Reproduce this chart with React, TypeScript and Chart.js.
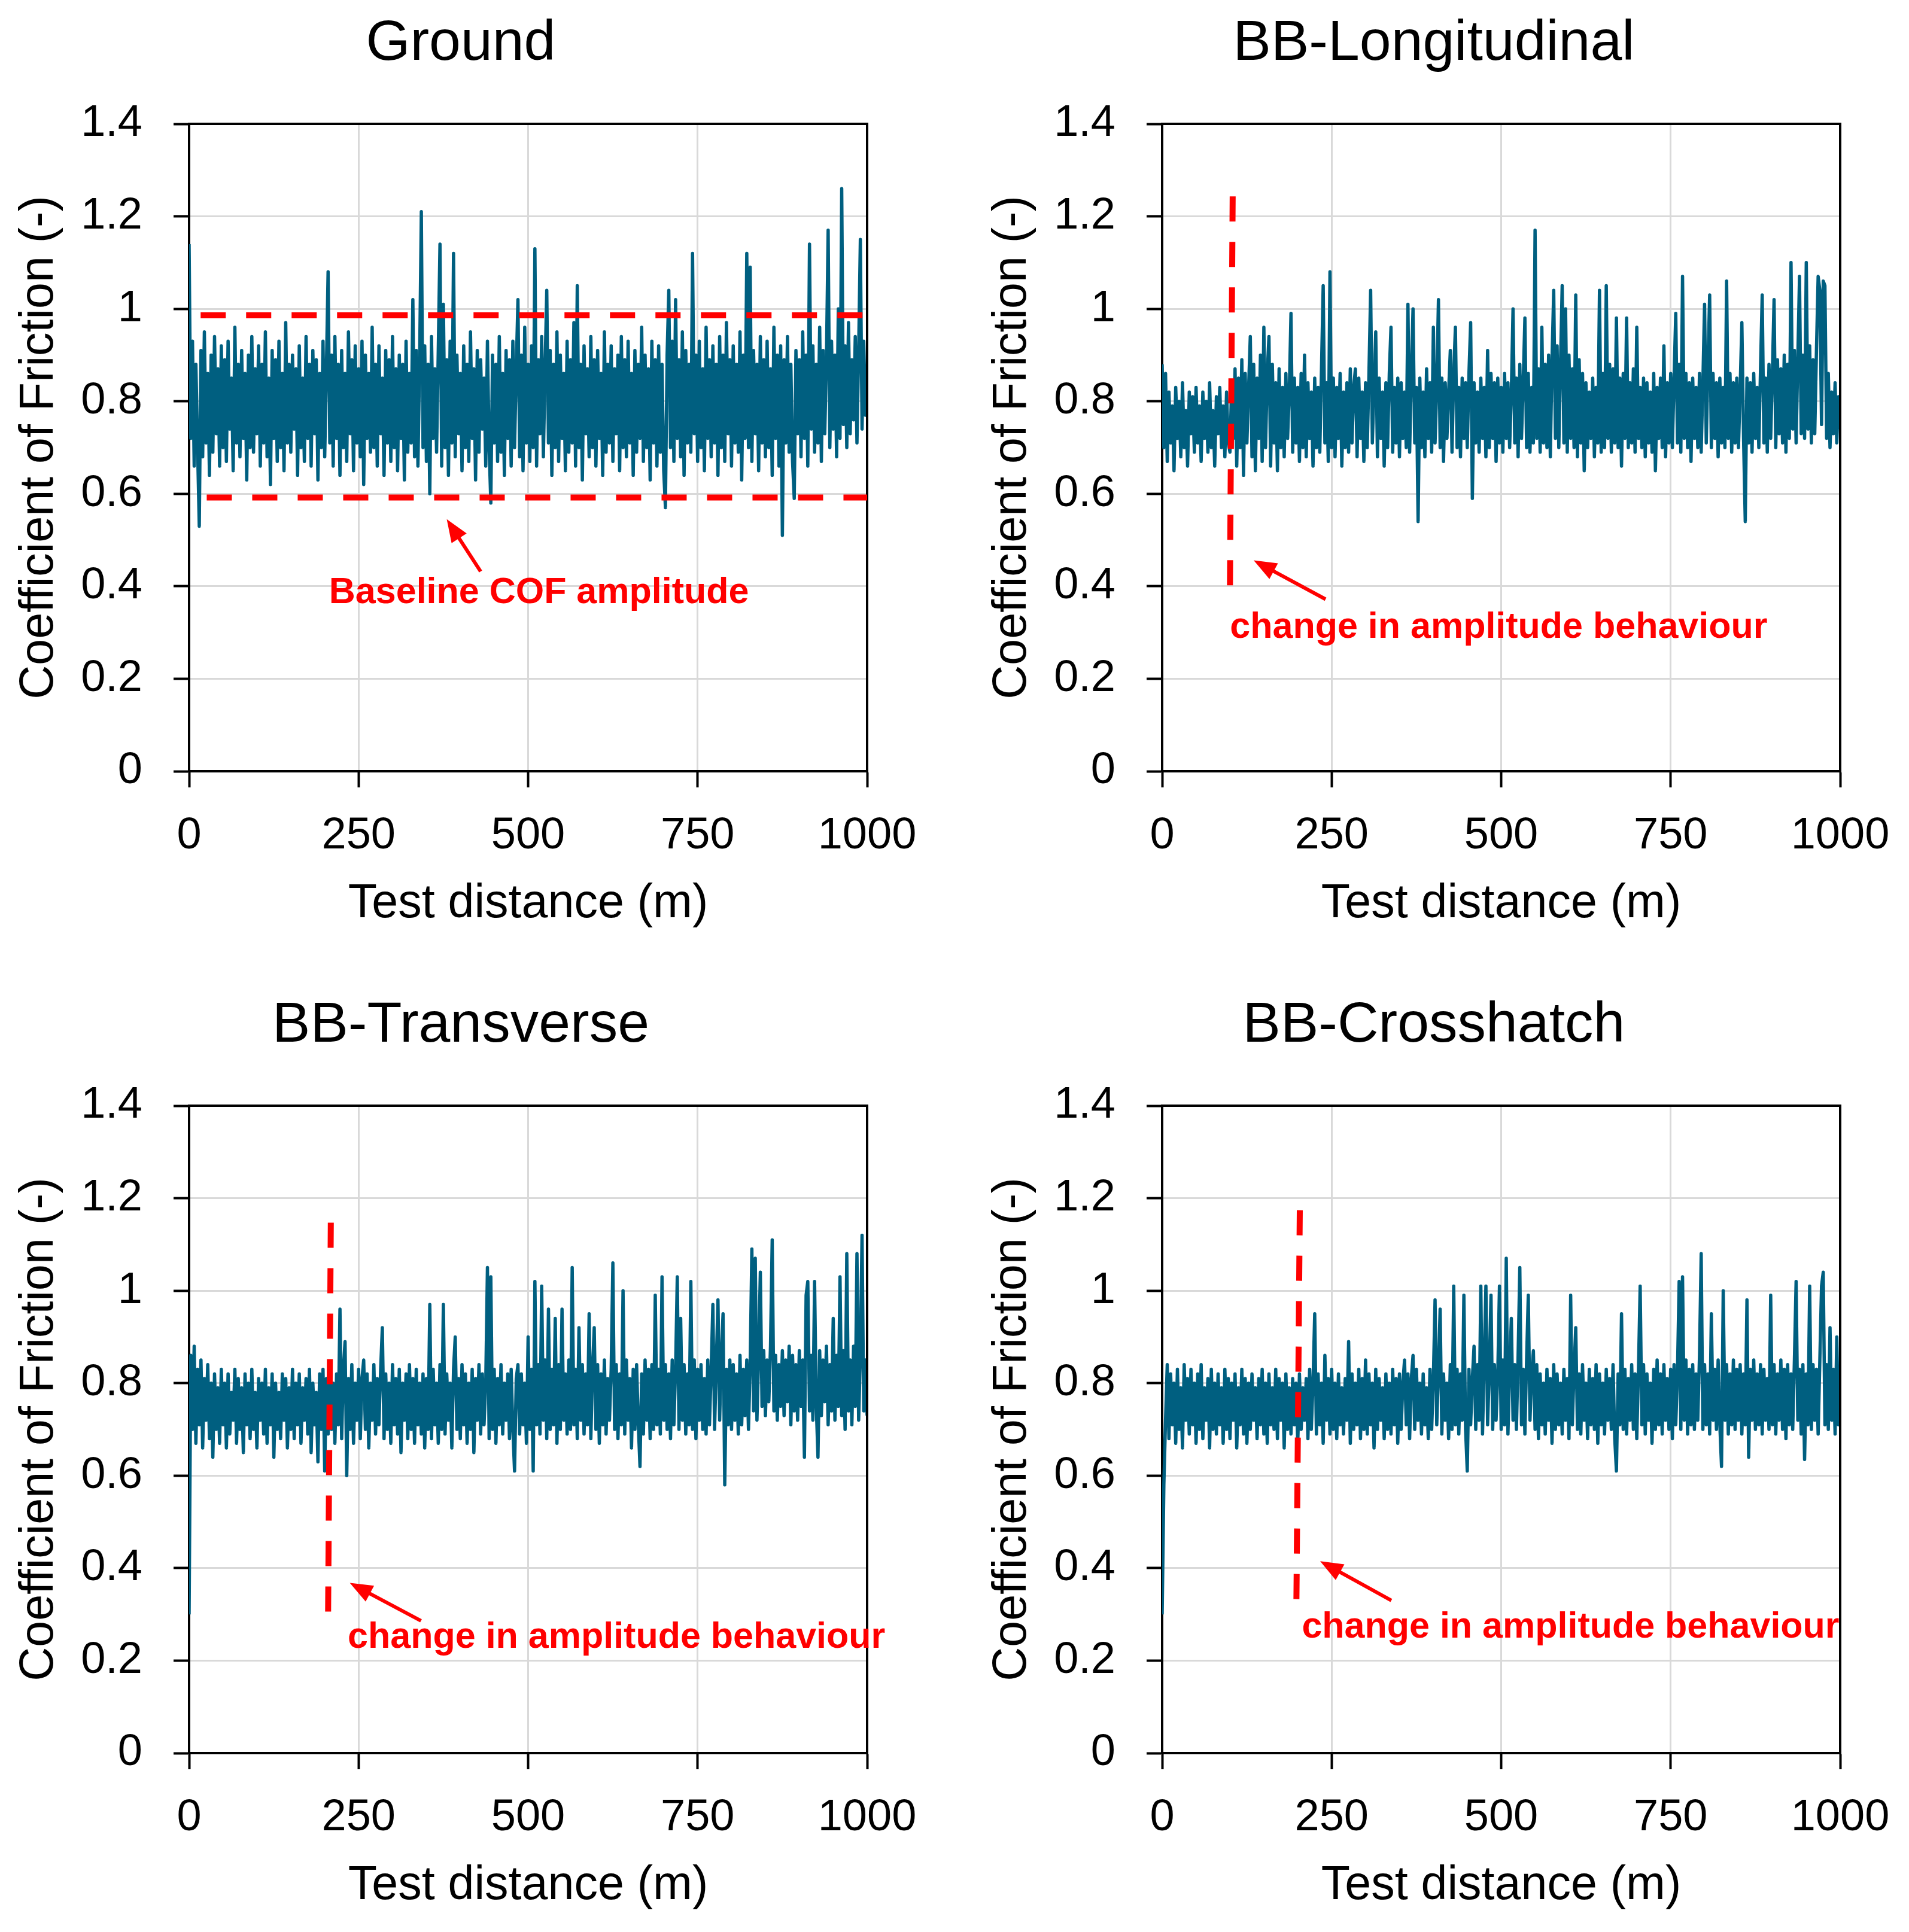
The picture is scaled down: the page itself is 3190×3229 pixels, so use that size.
import { useEffect, useRef } from 'react';
import { Chart, registerables } from 'chart.js';

Chart.register(...registerables);

// --- data (coefficient of friction, one sample every 2.5 m) ---
const DISTANCE_MAX = 1000;
const X_TICK_STEP = 250;
const Y_MAX = 1.4;
const Y_TICK_STEP = 0.2;

const groundCof = [
  1.14, 0.72, 0.93, 0.66, 0.88, 0.70, 0.53, 0.91, 0.68, 0.95, 0.71, 0.86, 0.64, 0.90, 0.69, 0.94, 0.73, 0.87, 0.66, 0.92,
  0.70, 0.89, 0.67, 0.93, 0.74, 0.85, 0.65, 0.96, 0.71, 0.88, 0.68, 0.91, 0.72, 0.86, 0.63, 0.90, 0.70, 0.94, 0.69, 0.87,
  0.73, 0.92, 0.66, 0.88, 0.71, 0.95, 0.68, 0.85, 0.62, 0.91, 0.72, 0.89, 0.67, 0.93, 0.70, 0.86, 0.65, 0.97, 0.71, 0.88,
  0.69, 0.90, 0.74, 0.87, 0.64, 0.92, 0.70, 0.85, 0.67, 0.94, 0.72, 0.88, 0.66, 0.91, 0.73, 0.89, 0.63, 0.86, 0.70, 0.93,
  0.68, 0.87, 1.08, 0.71, 0.90, 0.66, 0.94, 0.72, 0.88, 0.64, 0.91, 0.70, 0.86, 0.67, 0.95, 0.73, 0.89, 0.65, 0.92, 0.71,
  0.87, 0.68, 0.93, 0.62, 0.90, 0.72, 0.86, 0.69, 0.96, 0.70, 0.88, 0.66, 0.92, 0.73, 0.85, 0.64, 0.91, 0.71, 0.89, 0.67,
  0.94, 0.70, 0.87, 0.65, 0.90, 0.72, 0.88, 0.63, 0.93, 0.69, 0.86, 0.71, 1.02, 0.68, 0.91, 0.66, 0.89, 1.21, 0.70, 0.92,
  0.67, 0.88, 0.60, 0.94, 0.72, 0.87, 0.69, 0.91, 1.14, 0.66, 1.01, 0.70, 0.89, 0.64, 0.93, 0.71, 1.12, 0.68, 0.90, 0.73,
  0.86, 0.65, 0.92, 0.70, 0.88, 0.67, 0.95, 0.72, 0.87, 0.63, 0.91, 0.69, 0.89, 0.74, 0.85, 0.66, 0.93, 0.70, 0.58, 0.90,
  0.71, 0.88, 0.67, 0.94, 0.69, 0.86, 0.64, 0.91, 0.72, 0.89, 0.66, 0.93, 0.70, 0.87, 1.02, 0.68, 0.90, 0.65, 0.96, 0.71,
  0.88, 0.67, 0.92, 0.70, 1.13, 0.66, 0.89, 0.73, 0.94, 0.68, 0.87, 1.04, 0.71, 0.91, 0.64, 0.88, 0.70, 0.95, 0.67, 0.90,
  0.72, 0.86, 0.65, 0.93, 0.69, 0.89, 0.71, 0.97, 0.66, 1.05, 0.70, 0.88, 0.63, 0.92, 0.73, 0.87, 0.68, 0.94, 0.70, 0.89,
  0.66, 0.91, 0.72, 0.86, 0.64, 0.95, 0.69, 0.88, 0.71, 0.92, 0.67, 0.87, 0.73, 0.90, 0.65, 0.94, 0.70, 0.89, 0.68, 0.93,
  0.71, 0.86, 0.64, 0.91, 0.69, 0.88, 0.72, 0.96, 0.67, 0.90, 0.70, 0.87, 0.63, 0.93, 0.71, 0.89, 0.66, 0.92, 0.69, 0.88,
  0.65, 0.57, 0.90, 1.04, 0.70, 0.93, 0.67, 1.02, 0.72, 0.89, 0.68, 0.95, 0.64, 0.91, 0.71, 0.88, 0.69, 1.12, 0.73, 0.90,
  0.67, 0.93, 0.70, 0.87, 0.65, 0.96, 0.72, 0.89, 0.68, 0.92, 0.71, 0.88, 0.64, 0.94, 0.70, 0.90, 0.67, 0.97, 0.73, 0.89,
  0.66, 0.92, 0.71, 0.88, 0.69, 0.95, 0.63, 0.90, 0.72, 1.12, 0.70, 1.09, 0.67, 0.91, 0.73, 0.88, 0.65, 0.94, 0.71, 0.89,
  0.68, 0.93, 0.70, 0.87, 0.64, 0.96, 0.72, 0.90, 0.66, 0.92, 0.51, 0.89, 0.71, 0.94, 0.69, 0.88, 0.67, 0.59, 0.91, 0.73,
  0.89, 0.68, 0.95, 0.72, 0.90, 0.66, 1.14, 0.74, 0.92, 0.69, 0.88, 0.71, 0.96, 0.67, 0.91, 0.73, 0.89, 1.17, 0.70, 0.93,
  0.74, 0.90, 0.68, 1.00, 0.72, 1.26, 0.75, 0.92, 0.70, 0.97, 0.73, 0.89, 0.76, 0.94, 0.71, 0.91, 1.15, 0.74, 0.93, 0.77,
  0.88,
];

const longitudinalCof = [
  0.88, 0.70, 0.86, 0.67, 0.82, 0.71, 0.79, 0.65, 0.83, 0.72, 0.80, 0.68, 0.84, 0.70, 0.78, 0.66, 0.82, 0.73, 0.81, 0.69,
  0.83, 0.71, 0.79, 0.67, 0.82, 0.72, 0.80, 0.69, 0.84, 0.70, 0.78, 0.66, 0.81, 0.73, 0.83, 0.70, 0.79, 0.68, 0.82, 0.71,
  0.69, 0.84, 0.72, 0.87, 0.66, 0.85, 0.70, 0.89, 0.64, 0.86, 0.71, 0.83, 0.94, 0.68, 0.88, 0.65, 0.85, 0.72, 0.90, 0.67,
  0.96, 0.70, 0.86, 0.94, 0.66, 0.88, 0.71, 0.84, 0.65, 0.87, 0.70, 0.83, 0.68, 0.86, 0.72, 0.82, 0.99, 0.69, 0.85, 0.71,
  0.83, 0.67, 0.86, 0.70, 0.90, 0.68, 0.84, 0.72, 0.82, 0.66, 0.85, 0.70, 0.83, 0.69, 0.87, 1.05, 0.71, 0.84, 0.67, 1.08,
  0.70, 0.85, 0.68, 0.83, 0.72, 0.86, 0.66, 0.82, 0.70, 0.84, 0.69, 0.87, 0.71, 0.83, 0.87, 0.68, 0.85, 0.72, 0.82, 0.67,
  0.84, 0.70, 0.86, 1.04, 0.71, 0.83, 0.95, 0.68, 0.85, 0.72, 0.82, 0.66, 0.84, 0.70, 0.86, 0.96, 0.69, 0.83, 0.71, 0.85,
  0.68, 0.84, 0.72, 0.82, 0.70, 1.01, 0.69, 0.86, 1.00, 0.71, 0.83, 0.54, 0.85, 0.70, 0.82, 0.68, 0.87, 0.72, 0.84, 0.69,
  0.96, 0.71, 0.83, 1.02, 0.70, 0.85, 0.67, 0.84, 0.72, 0.82, 0.91, 0.69, 0.86, 0.96, 0.70, 0.83, 0.68, 0.85, 0.72, 0.84,
  0.70, 0.86, 0.97, 0.59, 0.84, 0.71, 0.82, 0.69, 0.85, 0.72, 0.83, 0.68, 0.91, 0.70, 0.86, 0.72, 0.84, 0.67, 0.85, 0.71,
  0.83, 0.69, 0.86, 0.72, 0.84, 0.70, 0.82, 1.00, 0.71, 0.85, 0.68, 0.88, 0.72, 0.84, 0.98, 0.70, 0.86, 0.69, 0.83, 0.71,
  1.17, 0.72, 0.87, 0.69, 0.96, 0.71, 0.88, 0.70, 0.90, 0.68, 0.89, 1.04, 0.72, 0.92, 0.70, 0.88, 1.05, 0.71, 1.00, 0.69,
  0.90, 0.72, 0.87, 0.70, 1.03, 0.68, 0.89, 0.71, 0.86, 0.65, 0.84, 0.70, 0.82, 0.72, 0.85, 0.68, 0.83, 0.71, 1.04, 0.69,
  0.86, 0.70, 1.05, 0.72, 0.88, 0.69, 0.87, 0.71, 0.98, 0.70, 0.85, 0.66, 0.86, 0.72, 0.98, 0.70, 0.84, 0.71, 0.87, 0.69,
  0.96, 0.72, 0.83, 0.70, 0.85, 0.68, 0.84, 0.71, 0.82, 0.69, 0.86, 0.65, 0.83, 0.72, 0.85, 0.70, 0.92, 0.68, 0.84, 0.71,
  0.86, 0.70, 0.85, 0.99, 0.71, 0.88, 0.69, 1.07, 0.72, 0.86, 0.70, 0.84, 0.67, 0.85, 0.72, 0.83, 0.70, 0.86, 0.69, 0.84,
  1.01, 0.71, 0.88, 1.03, 0.70, 0.86, 0.72, 0.84, 0.68, 0.85, 0.71, 0.83, 0.70, 1.06, 0.72, 0.86, 0.69, 0.84, 0.71, 0.85,
  0.70, 0.83, 0.97, 0.72, 0.54, 0.85, 0.71, 0.84, 0.69, 0.86, 0.72, 0.83, 0.70, 0.87, 1.03, 0.71, 0.85, 0.69, 0.88, 0.72,
  0.86, 1.02, 0.70, 0.89, 0.73, 0.87, 0.71, 0.90, 0.69, 0.88, 0.72, 1.10, 0.74, 0.91, 0.71, 0.89, 1.07, 0.73, 0.90, 0.72,
  1.10, 0.74, 0.92, 0.71, 0.89, 0.73, 0.91, 1.07, 1.04, 0.75, 1.06, 1.05, 0.72, 0.86, 0.70, 0.82, 0.73, 0.84, 0.71, 0.81,
  0.74,
];

const transverseCof = [
  0.30, 0.86, 0.70, 0.88, 0.67, 0.83, 0.71, 0.85, 0.66, 0.81, 0.72, 0.84, 0.68, 0.80, 0.64, 0.82, 0.70, 0.79, 0.67, 0.83,
  0.71, 0.80, 0.66, 0.82, 0.69, 0.78, 0.72, 0.83, 0.67, 0.81, 0.70, 0.79, 0.65, 0.82, 0.71, 0.80, 0.68, 0.83, 0.70, 0.78,
  0.66, 0.81, 0.72, 0.80, 0.69, 0.83, 0.67, 0.79, 0.71, 0.82, 0.64, 0.80, 0.70, 0.78, 0.68, 0.82, 0.72, 0.81, 0.66, 0.79,
  0.70, 0.83, 0.68, 0.80, 0.71, 0.82, 0.67, 0.79, 0.72, 0.81, 0.69, 0.83, 0.65, 0.80, 0.71, 0.78, 0.63, 0.82, 0.70, 0.83,
  0.61, 0.81, 0.69, 0.84, 0.70, 0.80, 0.67, 0.82, 0.71, 0.96, 0.68, 0.83, 0.89, 0.60, 0.81, 0.70, 0.84, 0.67, 0.80, 0.72,
  0.83, 0.68, 0.81, 0.85, 0.70, 0.82, 0.66, 0.80, 0.72, 0.84, 0.69, 0.81, 0.71, 0.83, 0.92, 0.68, 0.82, 0.70, 0.80, 0.67,
  0.84, 0.71, 0.81, 0.69, 0.83, 0.65, 0.80, 0.72, 0.82, 0.68, 0.84, 0.70, 0.81, 0.67, 0.83, 0.71, 0.80, 0.69, 0.82, 0.66,
  0.81, 0.70, 0.97, 0.68, 0.83, 0.71, 0.80, 0.67, 0.84, 0.70, 0.97, 0.69, 0.82, 0.72, 0.80, 0.66, 0.83, 0.90, 0.70, 0.81,
  0.68, 0.84, 0.71, 0.82, 0.67, 0.80, 0.70, 0.83, 0.65, 0.81, 0.72, 0.84, 0.69, 0.82, 0.71, 0.80, 1.05, 0.68, 1.03, 0.70,
  0.83, 0.67, 0.81, 0.71, 0.84, 0.69, 0.80, 0.72, 0.82, 0.68, 0.83, 0.70, 0.61, 0.81, 0.84, 0.69, 0.82, 0.71, 0.80, 0.67,
  0.90, 0.70, 0.83, 0.61, 1.02, 0.71, 0.84, 0.69, 1.01, 0.72, 0.85, 0.68, 0.96, 0.70, 0.83, 0.71, 0.94, 0.67, 0.84, 0.70,
  0.96, 0.72, 0.82, 0.69, 0.85, 0.70, 1.05, 0.71, 0.83, 0.68, 0.92, 0.72, 0.84, 0.69, 0.82, 0.71, 0.95, 0.68, 0.83, 0.92,
  0.70, 0.84, 0.67, 0.82, 0.71, 0.85, 0.69, 0.81, 0.72, 0.83, 1.06, 0.70, 0.84, 0.68, 0.82, 0.71, 1.00, 0.69, 0.85, 0.72,
  0.81, 0.66, 0.83, 0.70, 0.84, 0.71, 0.62, 0.82, 0.69, 0.85, 0.72, 0.83, 0.68, 0.84, 0.70, 0.99, 0.71, 0.83, 0.69, 1.03,
  0.72, 0.84, 0.70, 0.82, 0.68, 0.85, 0.71, 0.83, 1.03, 0.70, 0.94, 0.72, 0.84, 0.69, 0.82, 0.71, 1.02, 0.70, 0.85, 0.68,
  0.83, 0.72, 0.84, 0.70, 0.81, 0.69, 0.85, 0.71, 0.83, 0.97, 0.70, 0.84, 0.98, 0.72, 0.86, 0.95, 0.58, 0.83, 0.71, 0.85,
  0.70, 0.84, 0.72, 0.82, 0.69, 0.86, 0.71, 0.83, 0.73, 0.85, 0.70, 0.84, 1.09, 0.74, 1.07, 0.72, 0.86, 1.04, 0.75, 0.87,
  0.73, 0.85, 0.76, 0.88, 1.11, 0.74, 0.86, 0.72, 0.84, 0.75, 0.87, 0.73, 0.85, 0.76, 0.88, 0.71, 0.86, 0.74, 0.84, 0.72,
  0.87, 0.75, 0.85, 0.64, 0.99, 1.02, 0.74, 0.86, 0.72, 1.02, 0.75, 0.64, 0.87, 0.73, 0.85, 0.76, 0.88, 0.71, 0.84, 0.74,
  0.94, 0.72, 0.86, 0.75, 1.03, 0.73, 0.87, 0.70, 1.08, 0.74, 0.85, 0.71, 0.88, 0.75, 1.08, 0.72, 0.86, 1.12, 0.74, 0.85,
  0.73,
];

const crosshatchCof = [
  0.30, 0.58, 0.72, 0.84, 0.68, 0.82, 0.71, 0.80, 0.67, 0.83, 0.70, 0.79, 0.66, 0.84, 0.72, 0.81, 0.69, 0.83, 0.71, 0.80,
  0.67, 0.82, 0.70, 0.84, 0.68, 0.79, 0.72, 0.81, 0.66, 0.83, 0.70, 0.80, 0.69, 0.82, 0.71, 0.79, 0.67, 0.83, 0.70, 0.81,
  0.68, 0.80, 0.72, 0.82, 0.66, 0.79, 0.71, 0.83, 0.69, 0.81, 0.67, 0.80, 0.70, 0.82, 0.72, 0.79, 0.68, 0.81, 0.71, 0.83,
  0.69, 0.80, 0.67, 0.82, 0.71, 0.79, 0.70, 0.83, 0.68, 0.81, 0.72, 0.80, 0.66, 0.82, 0.70, 0.79, 0.69, 0.81, 0.71, 0.80,
  0.67, 0.82, 0.70, 0.79, 0.72, 0.81, 0.68, 0.83, 0.70, 0.80, 0.95, 0.69, 0.82, 0.71, 0.80, 0.67, 0.86, 0.72, 0.81, 0.69,
  0.83, 0.70, 0.80, 0.68, 0.82, 0.71, 0.79, 0.69, 0.81, 0.72, 0.89, 0.67, 0.82, 0.70, 0.80, 0.71, 0.83, 0.68, 0.81, 0.70,
  0.85, 0.69, 0.82, 0.71, 0.80, 0.66, 0.83, 0.70, 0.81, 0.72, 0.79, 0.68, 0.82, 0.70, 0.80, 0.69, 0.83, 0.71, 0.81, 0.67,
  0.82, 0.70, 0.80, 0.85, 0.71, 0.82, 0.68, 0.81, 0.86, 0.70, 0.83, 0.72, 0.80, 0.69, 0.82, 0.71, 0.79, 0.68, 0.83, 0.70,
  0.81, 0.98, 0.71, 0.83, 0.96, 0.69, 0.82, 0.72, 0.80, 0.68, 0.84, 0.70, 1.01, 0.71, 0.83, 0.69, 0.82, 0.72, 0.99, 0.70,
  0.61, 0.83, 0.71, 0.81, 0.88, 0.70, 0.84, 0.72, 1.01, 0.69, 0.85, 1.01, 0.71, 0.83, 0.99, 0.70, 0.84, 0.72, 0.82, 1.01,
  0.70, 0.85, 0.71, 1.07, 0.69, 0.83, 0.94, 0.72, 0.84, 0.70, 0.86, 1.05, 0.71, 0.83, 0.69, 0.85, 0.99, 0.72, 0.82, 0.87,
  0.70, 0.84, 0.68, 0.82, 0.71, 0.80, 0.69, 0.83, 0.72, 0.81, 0.67, 0.84, 0.70, 0.82, 0.71, 0.80, 0.69, 0.83, 0.72, 0.81,
  0.68, 0.99, 0.71, 0.83, 0.92, 0.70, 0.82, 0.69, 0.84, 0.72, 0.80, 0.68, 0.83, 0.71, 0.81, 0.70, 0.84, 0.67, 0.82, 0.71,
  0.80, 0.69, 0.83, 0.72, 0.81, 0.70, 0.84, 0.68, 0.61, 0.82, 0.71, 0.95, 0.70, 0.83, 0.69, 0.81, 0.72, 0.84, 0.70, 0.82,
  0.68, 0.83, 1.01, 0.71, 0.84, 0.69, 0.82, 0.72, 0.80, 0.67, 0.83, 0.70, 0.85, 0.71, 0.82, 0.69, 0.84, 0.72, 0.81, 0.70,
  0.83, 0.68, 0.84, 0.71, 0.82, 1.02, 0.70, 1.03, 0.72, 0.85, 0.69, 0.83, 0.71, 0.84, 0.70, 0.82, 0.72, 0.86, 1.08, 0.70,
  0.84, 0.71, 0.82, 0.69, 0.95, 0.72, 0.83, 0.70, 0.85, 0.71, 0.62, 1.00, 0.72, 0.84, 0.69, 0.82, 0.71, 0.85, 0.70, 0.83,
  0.72, 0.84, 0.69, 0.82, 0.71, 0.98, 0.64, 0.83, 0.72, 0.85, 0.70, 0.82, 0.71, 0.84, 0.69, 0.83, 0.72, 0.81, 0.70, 0.99,
  0.71, 0.84, 0.69, 0.82, 0.72, 0.85, 0.70, 0.83, 0.68, 0.84, 0.71, 0.82, 0.70, 0.85, 1.02, 0.72, 0.83, 0.69, 0.84, 0.635,
  0.82, 0.71, 1.01, 0.70, 0.84, 0.72, 0.83, 0.69, 0.85, 1.01, 1.04, 0.71, 0.84, 0.70, 0.92, 0.72, 0.83, 0.69, 0.90, 0.71,
  0.82,
];

const panelTitles = ['Ground', 'BB-Longitudinal', 'BB-Transverse', 'BB-Crosshatch'];

// --- look ---
const LINE_COLOR = '#005f80';
const RED = '#ff0000';
const GRID_COLOR = '#d9d9d9';
const FONT = '"Liberation Sans", Arial, sans-serif';

// canvas box: 91 pad + 225 y-axis | 1133 plot | 125 pad ; 207 title | 1082 plot | 262 x-axis + 10
const CANVAS_W = 1574;
const CANVAS_H = 1561;

type Pt = { x: number; y: number };
interface Annotations {
  guides: Array<[Pt, Pt]>;
  arrow: [Pt, Pt];
  note: { text: string; at: Pt; align: CanvasTextAlign };
}

const annotations: Annotations[] = [
  {
    guides: [
      [{ x: 17, y: 0.986 }, { x: 1000, y: 0.986 }],
      [{ x: 26, y: 0.592 }, { x: 1000, y: 0.592 }],
    ],
    arrow: [{ x: 430, y: 0.432 }, { x: 380, y: 0.545 }],
    note: { text: 'Baseline COF amplitude', at: { x: 516, y: 0.385 }, align: 'center' },
  },
  {
    guides: [[{ x: 104, y: 1.243 }, { x: 100, y: 0.4 }]],
    arrow: [{ x: 241, y: 0.372 }, { x: 135, y: 0.456 }],
    note: { text: 'change in amplitude behaviour', at: { x: 100, y: 0.31 }, align: 'left' },
  },
  {
    guides: [[{ x: 209, y: 1.147 }, { x: 205, y: 0.302 }]],
    arrow: [{ x: 342, y: 0.286 }, { x: 237, y: 0.368 }],
    note: { text: 'change in amplitude behaviour', at: { x: 234, y: 0.25 }, align: 'left' },
  },
  {
    guides: [[{ x: 203, y: 1.174 }, { x: 198, y: 0.326 }]],
    arrow: [{ x: 338, y: 0.33 }, { x: 233, y: 0.415 }],
    note: { text: 'change in amplitude behaviour', at: { x: 206, y: 0.271 }, align: 'left' },
  },
];

const series = [groundCof, longitudinalCof, transverseCof, crosshatchCof];
const positions = [
  { left: 0, top: 0 },
  { left: 1626, top: 0 },
  { left: 0, top: 1641 },
  { left: 1626, top: 1641 },
];

const notesPlugin = (notes: Annotations) => ({
  id: 'cofNotes',
  afterDatasetsDraw(chart: Chart) {
    const { ctx, chartArea } = chart;
    const xs = chart.scales.x;
    const ys = chart.scales.y;
    const px = (p: Pt) => [xs.getPixelForValue(p.x), ys.getPixelForValue(p.y)];

    ctx.save();
    // black frame on top and right
    ctx.strokeStyle = '#000';
    ctx.lineWidth = 4;
    ctx.beginPath();
    ctx.moveTo(chartArea.left, chartArea.top);
    ctx.lineTo(chartArea.right, chartArea.top);
    ctx.lineTo(chartArea.right, chartArea.bottom);
    ctx.stroke();

    // dashed red guides
    ctx.strokeStyle = RED;
    ctx.lineWidth = 10;
    ctx.lineCap = 'butt';
    ctx.setLineDash([42, 34]);
    for (const [a, b] of notes.guides) {
      const [x1, y1] = px(a);
      const [x2, y2] = px(b);
      ctx.beginPath();
      ctx.moveTo(x1, y1);
      ctx.lineTo(x2, y2);
      ctx.stroke();
    }
    ctx.setLineDash([]);

    // arrow
    const [tx, ty] = px(notes.arrow[0]);
    const [hx, hy] = px(notes.arrow[1]);
    const ang = Math.atan2(hy - ty, hx - tx);
    const headLen = 38;
    const headHalf = 15;
    ctx.lineWidth = 6;
    ctx.beginPath();
    ctx.moveTo(tx, ty);
    ctx.lineTo(hx - Math.cos(ang) * headLen * 0.8, hy - Math.sin(ang) * headLen * 0.8);
    ctx.stroke();
    ctx.fillStyle = RED;
    ctx.beginPath();
    ctx.moveTo(hx, hy);
    ctx.lineTo(
      hx - Math.cos(ang) * headLen - Math.sin(ang) * headHalf,
      hy - Math.sin(ang) * headLen + Math.cos(ang) * headHalf
    );
    ctx.lineTo(
      hx - Math.cos(ang) * headLen + Math.sin(ang) * headHalf,
      hy - Math.sin(ang) * headLen - Math.cos(ang) * headHalf
    );
    ctx.closePath();
    ctx.fill();

    // label
    const [nx, ny] = px(notes.note.at);
    ctx.font = `bold 61px ${FONT}`;
    ctx.textAlign = notes.note.align;
    ctx.textBaseline = 'middle';
    ctx.fillText(notes.note.text, nx, ny);
    ctx.restore();
  },
});

function CofPanel({ index }: { index: number }) {
  const canvasRef = useRef<HTMLCanvasElement | null>(null);
  const chartRef = useRef<Chart | null>(null);

  useEffect(() => {
    if (!canvasRef.current) return;
    if (chartRef.current) chartRef.current.destroy();

    const values = series[index];
    const step = DISTANCE_MAX / (values.length - 1);
    const points = values.map((v, i) => ({ x: i * step, y: v }));

    chartRef.current = new Chart(canvasRef.current, {
      type: 'line',
      data: {
        datasets: [
          {
            data: points,
            borderColor: LINE_COLOR,
            borderWidth: 5.5,
            borderJoinStyle: 'round',
            pointRadius: 0,
            tension: 0,
          },
        ],
      },
      options: {
        responsive: false,
        animation: false,
        devicePixelRatio: 1,
        layout: { padding: { left: 91, right: 125, top: 0, bottom: 10 } },
        plugins: {
          legend: { display: false },
          tooltip: { enabled: false },
          title: {
            display: true,
            text: panelTitles[index],
            color: '#000',
            font: { family: FONT, size: 95, weight: 'normal', lineHeight: 1 },
            padding: { top: 26, bottom: 86 },
          },
        },
        scales: {
          x: {
            type: 'linear',
            min: 0,
            max: DISTANCE_MAX,
            afterFit: (scale: any) => {
              scale.height = 262;
            },
            ticks: {
              stepSize: X_TICK_STEP,
              maxRotation: 0,
              padding: 37,
              color: '#000',
              font: { family: FONT, size: 74 },
              callback: (v: any) => String(v),
            },
            grid: {
              color: GRID_COLOR,
              lineWidth: 3,
              tickColor: '#000',
              tickLength: 27,
              tickWidth: 4,
            },
            border: { display: true, color: '#000', width: 4 },
            title: {
              display: true,
              text: 'Test distance (m)',
              color: '#000',
              font: { family: FONT, size: 79, lineHeight: 1 },
              padding: { top: 0, bottom: 0 },
            },
          },
          y: {
            min: 0,
            max: Y_MAX,
            afterFit: (scale: any) => {
              scale.width = 225;
            },
            ticks: {
              stepSize: Y_TICK_STEP,
              padding: 52,
              color: '#000',
              font: { family: FONT, size: 74 },
              callback: (v: any) => String(Number(Number(v).toFixed(1))),
            },
            grid: {
              color: GRID_COLOR,
              lineWidth: 3,
              tickColor: '#000',
              tickLength: 26,
              tickWidth: 4,
            },
            border: { display: true, color: '#000', width: 4 },
            title: {
              display: true,
              text: 'Coefficient of Friction (-)',
              color: '#000',
              font: { family: FONT, size: 79, lineHeight: 1 },
              padding: { top: -64, bottom: 0 },
            },
          },
        },
      },
      plugins: [notesPlugin(annotations[index])],
    } as any);

    return () => {
      if (chartRef.current) {
        chartRef.current.destroy();
        chartRef.current = null;
      }
    };
  }, [index]);

  const pos = positions[index];
  return (
    <canvas
      ref={canvasRef}
      width={CANVAS_W}
      height={CANVAS_H}
      style={{
        position: 'absolute',
        left: pos.left,
        top: pos.top,
        width: CANVAS_W,
        height: CANVAS_H,
      }}
    />
  );
}

export default function App() {
  return (
    <div
      style={{
        position: 'absolute',
        left: 0,
        top: 0,
        width: 3190,
        height: 3229,
        overflow: 'hidden',
        background: '#fff',
      }}
    >
      {[0, 1, 2, 3].map((i) => (
        <CofPanel key={i} index={i} />
      ))}
    </div>
  );
}
